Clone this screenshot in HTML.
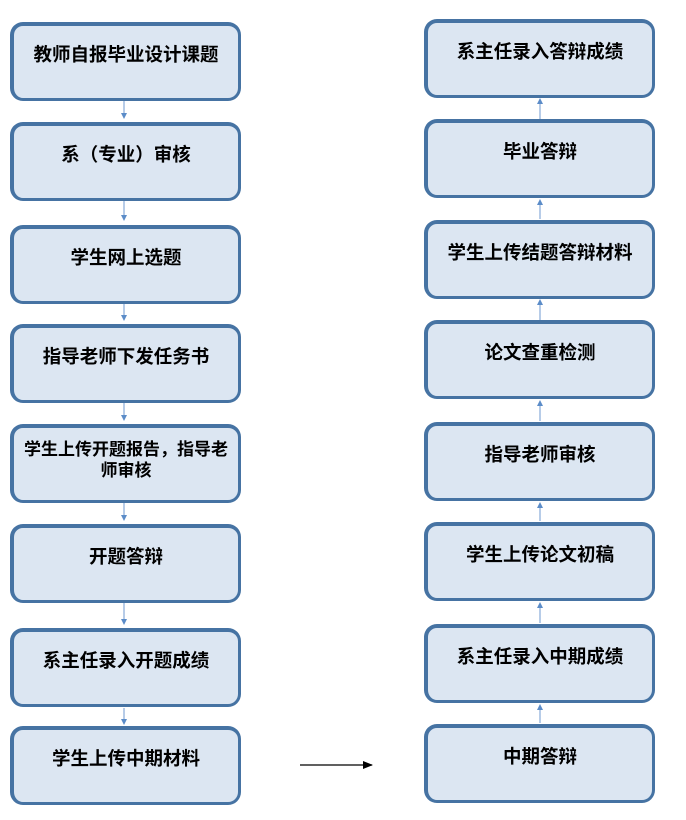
<!DOCTYPE html>
<html><head><meta charset="utf-8"><style>
html,body{margin:0;padding:0;background:#fff;}
body{width:686px;height:820px;position:relative;overflow:hidden;font-family:"Liberation Sans","Noto Sans CJK SC",sans-serif;}
.b{position:absolute;width:224px;height:72px;background:#dce6f2;border:3px solid #4673a3;border-left-width:4px;border-top-width:4px;border-radius:13px;box-sizing:content-box;text-align:center;font-weight:bold;font-size:18.5px;color:#000;}
.b span{position:absolute;left:2px;right:2px;top:18px;line-height:21px;}
svg{position:absolute;left:0;top:0;}
</style></head><body>
<svg width="686" height="820">
<defs><marker id="a" markerWidth="6" markerHeight="6" refX="5" refY="3" orient="auto"><path d="M0,0 L6,3 L0,6z" fill="#5b8cc8"/></marker>
<marker id="k" markerWidth="10" markerHeight="8" refX="9" refY="4" orient="auto" markerUnits="userSpaceOnUse"><path d="M0,0 L10,4 L0,8z" fill="#000"/></marker></defs>
<g stroke="#6f9ad0" stroke-width="1" fill="none">
<line x1="124" y1="100" x2="124" y2="118" marker-end="url(#a)"/>
<line x1="124" y1="200" x2="124" y2="220" marker-end="url(#a)"/>
<line x1="124" y1="302" x2="124" y2="320" marker-end="url(#a)"/>
<line x1="124" y1="402" x2="124" y2="420" marker-end="url(#a)"/>
<line x1="124" y1="502" x2="124" y2="520" marker-end="url(#a)"/>
<line x1="124" y1="602" x2="124" y2="624" marker-end="url(#a)"/>
<line x1="124" y1="708" x2="124" y2="724" marker-end="url(#a)"/>
<line x1="540" y1="723" x2="540" y2="705" marker-end="url(#a)"/>
<line x1="540" y1="623" x2="540" y2="603" marker-end="url(#a)"/>
<line x1="540" y1="521" x2="540" y2="503" marker-end="url(#a)"/>
<line x1="540" y1="421" x2="540" y2="401" marker-end="url(#a)"/>
<line x1="540" y1="320" x2="540" y2="300" marker-end="url(#a)"/>
<line x1="540" y1="219" x2="540" y2="200" marker-end="url(#a)"/>
<line x1="540" y1="119" x2="540" y2="99" marker-end="url(#a)"/>
</g>
<line x1="300" y1="765" x2="372" y2="765" stroke="#000" stroke-width="1.2" marker-end="url(#k)"/>
</svg>
<div class="b" style="left:10px;top:22px"><span>教师自报毕业设计课题</span></div>
<div class="b" style="left:10px;top:122px"><span>系（专业）审核</span></div>
<div class="b" style="left:10px;top:225px"><span>学生网上选题</span></div>
<div class="b" style="left:10px;top:324px"><span>指导老师下发任务书</span></div>
<div class="b" style="left:10px;top:424px"><span style="top:11px;font-size:17px">学生上传开题报告，指导老师审核</span></div>
<div class="b" style="left:10px;top:524px"><span>开题答辩</span></div>
<div class="b" style="left:10px;top:628px"><span>系主任录入开题成绩</span></div>
<div class="b" style="left:10px;top:726px"><span>学生上传中期材料</span></div>
<div class="b" style="left:424px;top:19px"><span>系主任录入答辩成绩</span></div>
<div class="b" style="left:424px;top:119px"><span>毕业答辩</span></div>
<div class="b" style="left:424px;top:220px"><span>学生上传结题答辩材料</span></div>
<div class="b" style="left:424px;top:320px"><span>论文查重检测</span></div>
<div class="b" style="left:424px;top:422px"><span>指导老师审核</span></div>
<div class="b" style="left:424px;top:522px"><span>学生上传论文初稿</span></div>
<div class="b" style="left:424px;top:624px"><span>系主任录入中期成绩</span></div>
<div class="b" style="left:424px;top:724px"><span>中期答辩</span></div>
</body></html>
